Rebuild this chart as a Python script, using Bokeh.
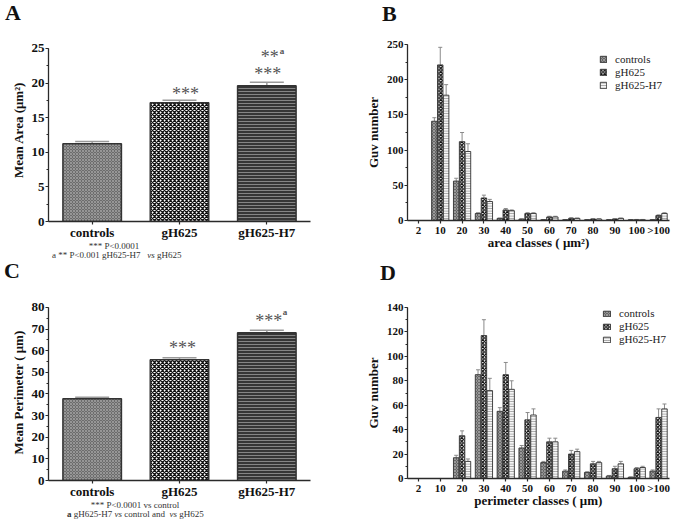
from bokeh.plotting import figure
from bokeh.models import (FactorRange, Range1d, Whisker, TeeHead, Label, Legend, LegendItem,
                          SingleIntervalTicker, ColumnDataSource, Div)
from bokeh.transform import dodge
from bokeh.layouts import row, column
from bokeh.embed import file_html
from bokeh.resources import INLINE

# ---------------- data ----------------
groups = ["controls", "gH625", "gH625-H7"]
area_mean = [11.25, 17.15, 19.6]
area_sem = [0.3, 0.35, 0.5]
perim_mean = [37.8, 55.8, 68.3]
perim_sem = [0.7, 1.0, 1.2]

classes = ["2", "10", "20", "30", "40", "50", "60", "70", "80", "90", "100", ">100"]

area_controls = [0, 141, 56, 10, 3, 2, 1, 1, 1, 1, 1, 1]
area_controls_err = [0, 5, 4, 1, 0.5, 0.3, 0.3, 0.3, 0.3, 0.3, 0.3, 0.3]
area_gh625 = [0, 221, 112, 32, 15, 10, 5, 3, 2, 2, 1, 7]
area_gh625_err = [0, 25, 13, 4, 2, 1, 1, 1, 0.5, 0.5, 0.5, 1]
area_h7 = [0, 178, 98, 27, 14, 10, 5, 3, 2, 3, 1, 10]
area_h7_err = [0, 15, 11, 3, 1, 1, 1, 0.5, 0.5, 0.5, 0.5, 1]

perim_controls = [0, 0, 17, 85, 55, 25, 13, 6, 5, 2, 1, 6]
perim_controls_err = [0, 0, 2, 4, 3, 2, 1, 1, 0.5, 0.5, 0.3, 1]
perim_gh625 = [0, 0, 35, 117, 85, 48, 30, 20, 12, 8, 8, 50]
perim_gh625_err = [0, 0, 4, 13, 10, 6, 3, 3, 2, 2, 1, 7]
perim_h7 = [0, 0, 14, 72, 73, 52, 30, 22, 13, 12, 9, 57]
perim_h7_err = [0, 0, 2, 10, 7, 5, 3, 2, 1, 2, 1, 4]

FONT = "Liberation Serif"
AX = "#2a2a2a"
LEFT_W, RIGHT_W = 330, 345


# ---------------- text boxes (HTML) ----------------
def span(text, left, baseline, size, weight="normal", color="#111", center=False):
    top = baseline - 0.8375 * size
    tr = "transform:translateX(-50%);" if center else ""
    return (f'<span style="position:absolute;left:{left}px;top:{top:.1f}px;'
            f"font-family:'{FONT}',serif;font-size:{size}px;font-weight:{weight};"
            f'line-height:1;white-space:nowrap;color:{color};{tr}">{text}</span>')


def textbox(width, height, spans):
    html = (f'<div style="position:relative;width:{width}px;height:{height}px;'
            f'margin:0;padding:0;">{"".join(spans)}</div>')
    return Div(text=html, width=width, height=height, margin=(0, 0, 0, 0))


def lab(p, text, dx, dy, size, style="normal", align="left", color="#111", x=0, y=0):
    p.add_layout(Label(x=x, y=y, x_offset=dx, y_offset=dy, text=text, text_font=FONT,
                       text_font_size=f"{size}px", text_font_style=style, text_align=align,
                       text_baseline="alphabetic", text_color=color))


def make_fig(factors, yend, ybound, width, height, bl, bt, fw, fh):
    p = figure(x_range=FactorRange(*factors, range_padding=0), y_range=Range1d(0, yend),
               width=width, height=height, output_backend="svg", toolbar_location=None,
               title=None, min_border_left=bl, min_border_top=bt,
               min_border_right=width - bl - fw, min_border_bottom=height - bt - fh)
    p.xgrid.visible = False
    p.ygrid.visible = False
    p.outline_line_color = None
    for ax in (p.xaxis[0], p.yaxis[0]):
        ax.axis_line_color = AX
        ax.axis_line_width = 1.3
        ax.major_tick_line_color = AX
        ax.major_tick_line_width = 1.2
        ax.major_tick_in = 0
        ax.major_tick_out = 3
        ax.major_label_text_font = FONT
        ax.major_label_text_font_style = "bold"
        ax.major_label_text_color = "#111"
        ax.axis_label_text_font = FONT
        ax.axis_label_text_font_style = "bold"
        ax.axis_label_text_font_size = "13px"
        ax.axis_label_text_color = "#111"
    p.yaxis.bounds = (0, ybound)
    p.yaxis.minor_tick_in = 0
    p.yaxis.minor_tick_out = 2
    p.yaxis.minor_tick_line_color = AX
    p.yaxis.major_label_standoff = 1
    p.yaxis.axis_label_standoff = 3
    p.xaxis.major_label_standoff = 0
    return p


def mean_panel(means, sems, yend, ybound, interval, ylabel, height, bt, fh):
    p = make_fig(groups, yend, ybound, LEFT_W, height, 48, bt, 262, fh)
    src = ColumnDataSource(dict(
        g=groups, v=means, hi=[m + s for m, s in zip(means, sems)],
        fc=["#6c6c6c", "white", "#363636"],
        hp=["diagonal_cross", "diagonal_cross", "horizontal_line"],
        hc=["#a2a2a2", "#111111", "#999999"],
        hs=[3, 4, 3], hw=[0.8, 1.3, 0.8]))
    p.vbar(x="g", top="v", width=0.67, source=src, fill_color="fc", hatch_pattern="hp",
           hatch_color="hc", hatch_scale="hs", hatch_weight="hw",
           line_color="#333", line_width=1.5)
    p.add_layout(Whisker(base="g", lower="v", upper="hi", source=src, line_color="#9a9a9a",
                         line_width=1.5, lower_head=None,
                         upper_head=TeeHead(size=34, line_color="#9a9a9a", line_width=1.5)))
    p.yaxis.ticker = SingleIntervalTicker(interval=interval, num_minor_ticks=2)
    p.yaxis.axis_label = ylabel
    p.yaxis.major_label_text_font_size = "13px"
    p.xaxis.major_label_text_font_size = "13px"
    return p


# ---------------- panel A ----------------
hA = textbox(LEFT_W, 26, [span("A", 5, 20, 22, "bold")])

pA = mean_panel(area_mean, area_sem, 184 / 6.96, 25, 5, "Mean Area (\u03bcm\u00b2)", 216, 12, 184)
ya1 = area_mean[1] + area_sem[1]
ya2 = area_mean[2] + area_sem[2]
lab(pA, "***", 6, 6, 18, align="center", color="#555", x=1.5, y=ya1)
lab(pA, "***", 1, 8, 18, align="center", color="#555", x=2.5, y=ya2)
lab(pA, "**", 3, 25, 18, align="center", color="#555", x=2.5, y=ya2)
lab(pA, "a", 13, 31, 9, "bold", color="#555", x=2.5, y=ya2)

fA = textbox(LEFT_W, 18, [
    span("*** P&lt;0.0001", 114, 7.5, 9, color="#333", center=True),
    span("a ** P&lt;0.001 gH625-H7&nbsp;&nbsp;&nbsp;<i>vs</i> gH625", 52, 16, 9, color="#333"),
])

# ---------------- panel C ----------------
hC = textbox(LEFT_W, 28, [span("C", 4, 18, 22, "bold")])

pC = mean_panel(perim_mean, perim_sem, 178 / 2.1875, 80, 10, "Mean Perimeter ( \u03bcm)",
                213, 16, 178)
yc1 = perim_mean[1] + perim_sem[1]
yc2 = perim_mean[2] + perim_sem[2]
lab(pC, "***", 3, 10, 18, align="center", color="#555", x=1.5, y=yc1)
lab(pC, "***", 2, 9, 18, align="center", color="#555", x=2.5, y=yc2)
lab(pC, "a", 16, 18, 9, "bold", color="#555", x=2.5, y=yc2)

fC = textbox(LEFT_W, 19, [
    span("*** P&lt;0.0001 vs control", 135, 7, 9, color="#333", center=True),
    span("<b>a</b> gH625-H7 <i>vs</i> control and&nbsp; <i>vs</i> gH625", 67, 16, 9,
         color="#333"),
])


# ---------------- histogram panels ----------------
def hist_panel(c, ce, g, ge, h, he, yend, interval, xlabel, height, bl, bt, fw, fh,
               leg_loc, gw, gh, lh):
    p = make_fig(classes, yend, yend, RIGHT_W, height, bl, bt, fw, fh)
    src = ColumnDataSource(dict(
        cat=classes, c=c, g=g, h=h,
        c_hi=[a + b for a, b in zip(c, ce)],
        g_hi=[a + b for a, b in zip(g, ge)],
        h_hi=[a + b for a, b in zip(h, he)]))
    styles = [
        ("c", -0.27, dict(fill_color="#666666", hatch_pattern="diagonal_cross",
                           hatch_color="#a6a6a6", hatch_scale=3, hatch_weight=0.8)),
        ("g", 0.0, dict(fill_color="white", hatch_pattern="diagonal_cross",
                        hatch_color="#111111", hatch_scale=3.5, hatch_weight=1.3)),
        ("h", 0.27, dict(fill_color="#f6f6f6", hatch_pattern="horizontal_line",
                         hatch_color="#8a8a8a", hatch_scale=2.5, hatch_weight=0.8)),
    ]
    rends = []
    for col, off, st in styles:
        r = p.vbar(x=dodge("cat", off, range=p.x_range), top=col, width=0.25, source=src,
                   line_color="#333", line_width=0.9, **st)
        rends.append(r)
        p.add_layout(Whisker(base=dodge("cat", off, range=p.x_range), lower=col,
                             upper=col + "_hi", source=src, line_color="#8a8a8a",
                             line_width=1, lower_head=None,
                             upper_head=TeeHead(size=4, line_color="#8a8a8a", line_width=1)))
    p.yaxis.ticker = SingleIntervalTicker(interval=interval, num_minor_ticks=2)
    p.yaxis.axis_label = "Guv number"
    p.xaxis.axis_label = xlabel
    p.yaxis.major_label_text_font_size = "11px"
    p.xaxis.major_label_text_font_size = "11px"
    p.xaxis.axis_label_standoff = -4
    legend = Legend(items=[LegendItem(label=n, renderers=[r]) for n, r in zip(groups, rends)],
                    location=leg_loc, orientation="vertical", glyph_width=gw, glyph_height=gh,
                    label_height=lh, label_text_font=FONT, label_text_font_size="11px",
                    label_text_color="#222", label_standoff=8, spacing=1, padding=0, margin=0,
                    border_line_color=None, background_fill_alpha=0)
    p.add_layout(legend)
    return p


hB = textbox(RIGHT_W, 24, [span("B", 52, 21, 22, "bold")])

pB = hist_panel(area_controls, area_controls_err, area_gh625, area_gh625_err, area_h7,
                area_h7_err, 250, 50, "area classes ( \u03bcm\u00b2)", 228, 76, 20, 265, 177,
                (192, 129), 8, 8, 12)

hD = textbox(RIGHT_W, 40, [span("D", 50, 28, 22, "bold")])

pD = hist_panel(perim_controls, perim_controls_err, perim_gh625, perim_gh625_err, perim_h7,
                perim_h7_err, 140, 20, "perimeter classes ( \u03bcm)", 228, 77, 15, 262, 171,
                (195, 133), 9, 7, 11)

layout = row(column(hA, pA, fA, hC, pC, fC), column(hB, pB, hD, pD))
open("out.html", "w").write(file_html(layout, INLINE))
